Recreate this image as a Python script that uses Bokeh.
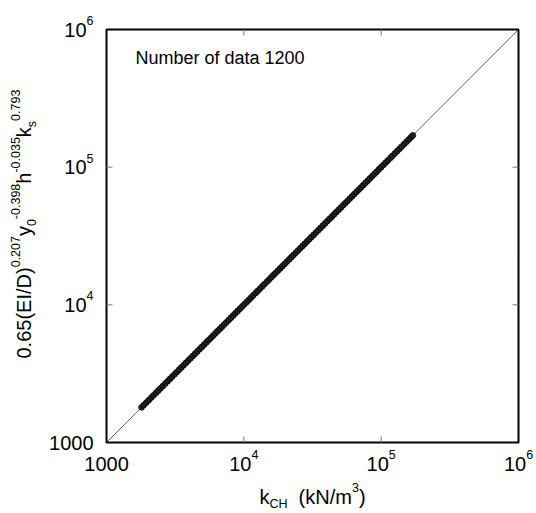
import math
from bokeh.plotting import figure
from bokeh.models import Range1d
from bokeh.core.properties import value
from bokeh.embed import file_html
from bokeh.resources import INLINE

# ---- data ----
k_ch = [1800, 1870, 1950, 2030, 2120, 2200, 2290, 2380, 2470, 2570, 2680, 2790,
        2900, 3010, 3130, 3250, 3380, 3510, 3650, 3790, 3940, 4090, 4250, 4410,
        4580, 4760, 4940, 5130, 5330, 5530, 5740, 5960, 6190, 6430, 6680, 6930,
        7200, 7470, 7760, 8060, 8370, 8690, 9020, 9370, 9730, 10100, 10500, 10900,
        11300, 11700, 12200, 12600, 13100, 13600, 14100, 14700, 15200, 15800, 16400,
        17000, 17700, 18400, 19100, 19800, 20600, 21400, 22200, 23000, 23900, 24800,
        25800, 26800, 27800, 28900, 30000, 31100, 32300, 33600, 34900, 36200, 37600,
        39000, 40500, 42100, 43700, 45400, 47100, 48900, 50800, 52800, 54800, 56900,
        59100, 61300, 63700, 66100, 68700, 71300, 74000, 76900, 79800, 82900, 86100,
        89400, 92800, 96400, 100000, 104000, 108000, 112000, 117000, 121000, 126000,
        131000, 136000, 141000, 147000, 153000, 159000, 165000, 170000]
k_pred = [1800, 1870, 1950, 2030, 2120, 2200, 2290, 2380, 2470, 2570, 2680, 2790,
          2900, 3010, 3130, 3250, 3380, 3510, 3650, 3790, 3940, 4090, 4250, 4410,
          4580, 4760, 4940, 5130, 5330, 5530, 5740, 5960, 6190, 6430, 6680, 6930,
          7200, 7470, 7760, 8060, 8370, 8690, 9020, 9370, 9730, 10100, 10500, 10900,
          11300, 11700, 12200, 12600, 13100, 13600, 14100, 14700, 15200, 15800, 16400,
          17000, 17700, 18400, 19100, 19800, 20600, 21400, 22200, 23000, 23900, 24800,
          25800, 26800, 27800, 28900, 30000, 31100, 32300, 33600, 34900, 36200, 37600,
          39000, 40500, 42100, 43700, 45400, 47100, 48900, 50800, 52800, 54800, 56900,
          59100, 61300, 63700, 66100, 68700, 71300, 74000, 76900, 79800, 82900, 86100,
          89400, 92800, 96400, 100000, 104000, 108000, 112000, 117000, 121000, 126000,
          131000, 136000, 141000, 147000, 153000, 159000, 165000, 170000]
one_to_one = [1e3, 1e6]
axis_ticks = [1e3, 1e4, 1e5, 1e6]
inner_ticks = [1e4, 1e5]
tick_label_parts = [("1000", ""), ("10", "4"), ("10", "5"), ("10", "6")]
note_text = "Number of data 1200"
x_title_parts = [("k", "n", 0), ("CH", "sub", 0), ("(kN/m", "n", 2), ("3", "sup", 0), (")", "n", 0)]
y_title_parts = [("0.65(EI/D)", "n", 0), ("0.207", "sup", 0), ("y", "n", 0), ("0", "sub", 0),
                 ("-0.398", "sup", 0), ("h", "n", 0), ("-0.035", "sup", 0), ("k", "n", 0),
                 ("s", "sub", 0), ("0.793", "sup", 0)]

# ---- geometry / styling ----
W, H = 536, 513
L, R, T, B = 106, 18, 29, 71       # space around the plotting box
DEC_X = (W - L - R) / 3.0
DEC_Y = (H - T - B) / 3.0
FONT = "Liberation Sans"
MAIN = 20
SCRIPT = 12.5
SUP_RAISE = 11.5
SUB_DROP = 5.0
BASE_FIX = 0.35                    # renderer places the alphabetic baseline this many em low
SPACE = 278 * MAIN / 1000.0
TICK_LEN = 6
ADV = {'0': 556, '1': 556, '2': 556, '3': 556, '4': 556, '5': 556, '6': 556, '7': 556,
       '8': 556, '9': 556, '.': 278, '-': 333, '(': 333, ')': 333, 'E': 667, 'I': 278,
       '/': 278, 'D': 722, 'y': 500, 'h': 556, 'k': 500, 's': 500, 'C': 722, 'H': 722,
       'N': 722, 'm': 833, ' ': 278}


def size_of(kind):
    return MAIN if kind == "n" else SCRIPT


def shift_of(kind):
    return {"n": 0, "sup": SUP_RAISE, "sub": -SUB_DROP}[kind]


def text_width(s, size):
    return sum(ADV.get(c, 556) for c in s) * size / 1000.0


def parts_width(parts):
    return sum(text_width(t, size_of(k)) + sp * SPACE for t, k, sp in parts)


x0, x1 = one_to_one
y0, y1 = one_to_one

p = figure(width=W, height=H, x_axis_type="log", y_axis_type="log",
           x_axis_location=None, y_axis_location=None, title=None,
           x_range=Range1d(x0 / 10 ** (L / DEC_X), x1 * 10 ** (R / DEC_X)),
           y_range=Range1d(y0 / 10 ** (B / DEC_Y), y1 * 10 ** (T / DEC_Y)),
           output_backend="svg", toolbar_location=None,
           min_border_left=0, min_border_right=0, min_border_top=0, min_border_bottom=0)
p.background_fill_color = "white"
p.border_fill_color = "white"
p.outline_line_color = None
p.grid.visible = False


def put(x, y, text, size, xo=0.0, yo=0.0, rotated=False):
    # yo: screen px, positive = up (converted to glyph convention)
    fix = BASE_FIX * size
    if rotated:
        p.text(x=[x], y=[y], text=[text], x_offset=xo - fix, y_offset=-yo,
               angle=math.pi / 2, text_font=value(FONT), text_font_size=f"{size}px",
               text_color="black", text_align="left", text_baseline="alphabetic")
    else:
        p.text(x=[x], y=[y], text=[text], x_offset=xo, y_offset=-(yo + fix),
               text_font=value(FONT), text_font_size=f"{size}px",
               text_color="black", text_align="left", text_baseline="alphabetic")


# data and reference line
p.line(one_to_one, one_to_one, line_color="#555555", line_width=0.9)
p.scatter(k_ch, k_pred, marker="circle", size=5.8, line_color="black",
          fill_color="#222222", line_width=0.8)

# plotting box and inward ticks
p.quad(left=[x0], right=[x1], bottom=[y0], top=[y1], fill_color=None,
       line_color="black", line_width=2)
tick_style = dict(length=TICK_LEN, length_units="screen", line_color="#777777", line_width=1)
p.ray(x=inner_ticks, y=[y0] * len(inner_ticks), angle=math.pi / 2, **tick_style)
p.ray(x=inner_ticks, y=[y1] * len(inner_ticks), angle=-math.pi / 2, **tick_style)
p.ray(x=[x0] * len(inner_ticks), y=inner_ticks, angle=0.0, **tick_style)
p.ray(x=[x1] * len(inner_ticks), y=inner_ticks, angle=math.pi, **tick_style)

# note
put(x0, y1, note_text, 18, xo=29, yo=-35)

# x tick labels
for t, (base, ex) in zip(axis_ticks, tick_label_parts):
    parts = [(base, "n", 0)] + ([(ex, "sup", 0)] if ex else [])
    off = -parts_width(parts) / 2
    for s, k, sp in parts:
        put(t, y0, s, size_of(k), xo=off, yo=-28 + shift_of(k))
        off += text_width(s, size_of(k))

# y tick labels
for t, (base, ex) in zip(axis_ticks, tick_label_parts):
    parts = [(base, "n", 0)] + ([(ex, "sup", 0)] if ex else [])
    off = -13 - parts_width(parts)
    for s, k, sp in parts:
        put(x0, t, s, size_of(k), xo=off, yo=-7 + shift_of(k))
        off += text_width(s, size_of(k))

# x title
xc = (x0 * x1) ** 0.5
off = -parts_width(x_title_parts) / 2
for s, k, sp in x_title_parts:
    off += sp * SPACE
    put(xc, y0, s, size_of(k), xo=off, yo=-61 + shift_of(k))
    off += text_width(s, size_of(k))

# y title (rotated, reading upward)
off = 84
for s, k, sp in y_title_parts:
    put(x0, y0, s, size_of(k), xo=-75.5 - shift_of(k), yo=off, rotated=True)
    off += text_width(s, size_of(k))

open("out.html", "w").write(file_html(p, INLINE))
